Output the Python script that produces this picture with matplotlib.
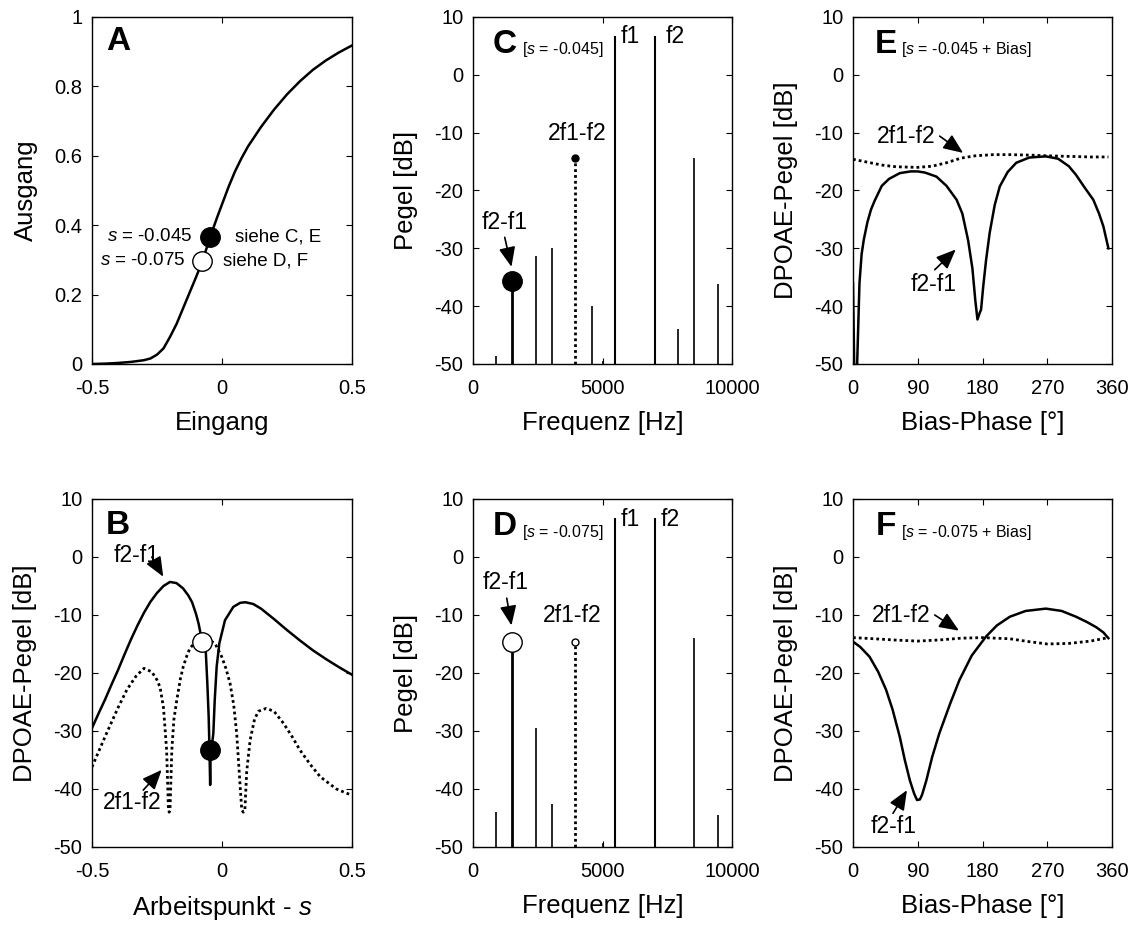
import numpy as np
import matplotlib
matplotlib.use("Agg")
import matplotlib.pyplot as plt

plt.rcParams['font.family'] = ['Liberation Sans', 'DejaVu Sans']
plt.rcParams['mathtext.fontset'] = 'custom'
plt.rcParams['mathtext.rm'] = 'Liberation Sans'
plt.rcParams['mathtext.it'] = 'Liberation Sans:italic'
plt.rcParams['axes.unicode_minus'] = False

# ---------------- data ----------------
# Panel A: transfer function
a_in = [-0.5, -0.45, -0.4, -0.35, -0.3, -0.275, -0.25, -0.225, -0.2, -0.175, -0.15,
        -0.125, -0.1, -0.075, -0.045, -0.02, 0.0, 0.025, 0.05, 0.075, 0.1, 0.15, 0.2,
        0.25, 0.3, 0.35, 0.4, 0.45, 0.5]
a_out = [0.0, 0.001, 0.003, 0.006, 0.011, 0.016, 0.027, 0.045, 0.078, 0.115, 0.16,
         0.205, 0.25, 0.297, 0.367, 0.42, 0.46, 0.51, 0.555, 0.593, 0.627, 0.683, 0.733,
         0.777, 0.815, 0.848, 0.875, 0.898, 0.918]
a_pts_s = [-0.045, -0.075]
a_pts_y = [0.367, 0.297]

# Panel B: DPOAE level vs operating point
b_s_f2f1 = [-0.5, -0.475, -0.45, -0.425, -0.4, -0.375, -0.35, -0.325, -0.3, -0.275,
            -0.25, -0.225, -0.2, -0.175, -0.15, -0.13, -0.115, -0.1, -0.09,
            -0.082, -0.076, -0.0627, -0.0565, -0.0513, -0.049, -0.0455, -0.044, -0.0333,
            -0.028, -0.0205, -0.0103, 0.0115, 0.0435, 0.07, 0.09, 0.12, 0.15, 0.2, 0.25,
            0.3, 0.35, 0.4, 0.45, 0.5]
b_f2f1 = [-29.5, -27.0, -24.6, -22.0, -19.5, -16.8, -14.2, -11.8, -9.6, -7.7,
          -6.2, -5.0, -4.3, -4.5, -5.4, -6.6, -7.8, -9.8, -11.5,
          -13.3, -14.7, -16.0, -21.7, -27.5, -31.6, -39.3, -34.5, -30.4,
          -24.7, -18.9, -14.9, -10.9, -8.6, -7.9, -7.8, -8.1, -8.9, -10.7, -12.6,
          -14.4, -16.1, -17.6, -19.0, -20.3]
b_s_2f1f2 = [-0.5, -0.45, -0.4, -0.366, -0.33, -0.3, -0.27, -0.25, -0.238, -0.225,
             -0.213, -0.206, -0.203, -0.2, -0.193, -0.185, -0.174, -0.16, -0.149,
             -0.135, -0.123, -0.1, -0.075, -0.05, -0.027, -0.001, 0.015, 0.031, 0.045,
             0.0565, 0.069, 0.076, 0.082, 0.088, 0.095, 0.108, 0.125, 0.14, 0.17, 0.2,
             0.237, 0.27, 0.3, 0.34, 0.378, 0.44, 0.5]
b_2f1f2 = [-36.2, -31.0, -26.0, -22.9, -20.5, -19.2, -19.8, -21.2, -22.5, -26.0,
           -33.3, -43.6, -44.0, -43.6, -33.3, -28.0, -24.7, -21.0, -18.9,
           -17.0, -15.7, -14.6, -14.2, -14.3, -14.9, -17.2, -19.2, -21.8, -25.5,
           -30.4, -39.0, -43.6, -44.0, -43.6, -37.0, -31.6, -28.0, -26.6, -26.1, -26.6,
           -28.7, -31.0, -33.3, -35.8, -37.9, -40.0, -41.1]
b_pts_s = [-0.076, -0.046]
b_pts_y = [-14.7, -33.2]

# Panel C: spectrum at s = -0.045
c_freq = [900, 1500, 2420, 3050, 3950, 4580, 5030, 5470, 7010, 7910, 8540, 9450]
c_level = [-48.6, -35.6, -31.3, -29.9, -14.3, -39.9, -49.5, 6.8, 6.8, -43.9, -14.3, -36.2]

# Panel D: spectrum at s = -0.075
d_freq = [900, 1500, 2420, 3050, 3950, 5030, 5470, 7010, 8540, 9450]
d_level = [-43.9, -14.6, -29.4, -42.6, -14.6, -49.3, 6.7, 6.7, -13.9, -44.5]

# Panel E: bias phase, s = -0.045
e_phase = [0, 3, 9, 12, 15, 20, 25, 30, 40, 50, 65, 80, 90, 100, 116, 130, 144, 152,
           160, 166, 170, 173, 176, 178, 181, 185, 190, 197, 204, 215, 227, 245, 268,
           285, 300, 310, 322, 334, 342, 348, 355]
e_f2f1 = [-36, -62, -36, -31, -28.5, -25.5, -23.3, -21.8, -19.2, -18.0, -17.0, -16.7,
          -16.7, -16.9, -17.6, -19.2, -21.6, -24.0, -28.6, -33.5, -39.0, -42.3, -41.2,
          -40.6, -36.6, -32.0, -27.3, -22.5, -19.3, -16.8, -15.2, -14.3, -14.1,
          -14.5, -15.8, -17.3, -19.5, -21.6, -24.0, -26.2, -30.0]
e_phase2 = [0, 20, 40, 60, 90, 110, 130, 150, 170, 195, 220, 250, 270, 300, 330, 355]
e_2f1f2 = [-14.6, -15.1, -15.6, -15.9, -16.0, -15.8, -15.2, -14.4, -14.0, -13.8,
           -13.8, -13.9, -14.0, -14.1, -14.2, -14.2]

# Panel F: bias phase, s = -0.075
f_phase = [0, 10, 23, 35, 46, 55, 65, 72, 79, 85, 89, 93, 96, 102, 110, 120, 135, 148,
           165, 185, 200, 218, 240, 268, 290, 310, 325, 338, 348, 355]
f_f2f1 = [-14.6, -15.5, -17.2, -19.8, -22.9, -26.3, -31.0, -35.0, -38.5, -40.8, -41.9,
          -41.8, -41.0, -38.5, -34.5, -30.4, -25.3, -21.2, -17.0, -13.7, -11.8, -10.3,
          -9.3, -8.9, -9.3, -10.3, -11.2, -12.1, -13.0, -14.0]
f_phase2 = [0, 30, 56, 90, 120, 150, 180, 218, 245, 270, 300, 330, 355]
f_2f1f2 = [-13.9, -14.1, -14.3, -14.5, -14.3, -14.0, -13.9, -14.1, -14.6, -15.0,
           -14.9, -14.5, -13.9]

# ---------------- styling ----------------
TICK_FS = 14.5
LABEL_FS = 18.5
ANN_FS = 16.5
LET_FS = 24
SUB_FS = 11.5
DOT = (0, (1, 1.1))
LW = 1.8

fig = plt.figure(figsize=(11.4, 9.27), dpi=100)
W, H = 1140, 927


def make_ax(left, top, right, bottom):
    return fig.add_axes([left / W, 1 - bottom / H, (right - left) / W, (bottom - top) / H])


def style(ax):
    ax.tick_params(direction='in', top=True, right=True, length=4, width=0.8,
                   labelsize=TICK_FS, pad=7)
    ax.tick_params(axis='x', pad=11)
    for sp in ax.spines.values():
        sp.set_linewidth(1.0)


def arrow(ax, text_xy, tip_xy, tail_xy, label, ha='center'):
    ax.text(text_xy[0], text_xy[1], label, fontsize=ANN_FS, ha=ha, va='center')
    ax.annotate('', xy=tip_xy, xytext=tail_xy,
                arrowprops=dict(arrowstyle='-|>,head_length=1.0,head_width=0.42',
                                mutation_scale=12, color='k', lw=1.2,
                                shrinkA=0, shrinkB=0))


axA = make_ax(92, 17, 352, 364)
axC = make_ax(473, 17, 732, 364)
axE = make_ax(853, 17, 1112, 364)
axB = make_ax(92, 499, 352, 847)
axD = make_ax(473, 499, 732, 847)
axF = make_ax(853, 499, 1112, 847)

# ---- A ----
ax = axA
ax.plot(a_in, a_out, color='k', lw=LW)
ax.plot(a_pts_s[0], a_pts_y[0], 'o', ms=14, mfc='k', mec='k', mew=1)
ax.plot(a_pts_s[1], a_pts_y[1], 'o', ms=14, mfc='white', mec='k', mew=1)
ax.set_xlim(-0.5, 0.5)
ax.set_ylim(0, 1)
ax.set_xticks([-0.5, 0, 0.5])
ax.set_xticklabels(['-0.5', '0', '0.5'])
ax.set_yticks([0, 0.2, 0.4, 0.6, 0.8, 1])
ax.set_yticklabels(['0', '0.2', '0.4', '0.6', '0.8', '1'])
ax.set_xlabel('Eingang', fontsize=LABEL_FS, labelpad=9)
ax.set_ylabel('Ausgang', fontsize=LABEL_FS, labelpad=12)
ax.text(0.1, 0.93, 'A', transform=ax.transAxes, fontsize=LET_FS, fontweight='bold',
        ha='center', va='center')
ax.text(-0.113, 0.367, '$s$ = -0.045', fontsize=13.5, ha='right', va='center')
ax.text(-0.142, 0.297, '$s$ = -0.075', fontsize=13.5, ha='right', va='center')
ax.text(0.05, 0.367, 'siehe C, E', fontsize=13.5, ha='left', va='center')
ax.text(0.003, 0.297, 'siehe D, F', fontsize=13.5, ha='left', va='center')
style(ax)

# ---- B ----
ax = axB
ax.plot(b_s_f2f1, b_f2f1, color='k', lw=LW)
ax.plot(b_s_2f1f2, b_2f1f2, color='k', lw=2.0, ls=DOT)
ax.plot(b_pts_s[0], b_pts_y[0], 'o', ms=14, mfc='white', mec='k', mew=1, zorder=5)
ax.plot(b_pts_s[1], b_pts_y[1], 'o', ms=14, mfc='k', mec='k', mew=1, zorder=5)
ax.set_xlim(-0.5, 0.5)
ax.set_ylim(-50, 10)
ax.set_xticks([-0.5, 0, 0.5])
ax.set_xticklabels(['-0.5', '0', '0.5'])
ax.set_yticks(range(-50, 11, 10))
ax.set_xlabel('Arbeitspunkt - $s$', fontsize=LABEL_FS, labelpad=9)
ax.set_ylabel('DPOAE-Pegel [dB]', fontsize=LABEL_FS, labelpad=12)
ax.text(0.1, 0.923, 'B', transform=ax.transAxes, fontsize=LET_FS, fontweight='bold',
        ha='center', va='center')
arrow(ax, (-0.33, 0.3), (-0.226, -3.4), (-0.27, 0.0), 'f2-f1')
arrow(ax, (-0.346, -42.4), (-0.232, -36.7), (-0.303, -40.2), '2f1-f2')
style(ax)

# ---- C & D ----
for ax, freq, level, lab, fillc, big in [
        (axC, c_freq, c_level, '[$s$ = -0.045]', 'k', 'C'),
        (axD, d_freq, d_level, '[$s$ = -0.075]', 'white', 'D')]:
    for f, l in zip(freq, level):
        if f == 1500:
            ax.vlines(f, -50, l, color='k', lw=2.0)
        elif f == 3950:
            ax.vlines(f, -50, l, color='k', lw=2.0, linestyles=[DOT])
        elif f in (5470, 7010):
            ax.vlines(f, -50, l, color='k', lw=1.5)
        else:
            ax.vlines(f, -50, l, color='k', lw=1.2)
    i1 = freq.index(1500)
    i2 = freq.index(3950)
    ax.plot(freq[i1], level[i1], 'o', ms=14, mfc=fillc, mec='k', mew=1, zorder=5)
    ax.plot(freq[i2], level[i2], 'o', ms=5, mfc=fillc, mec='k', mew=1, zorder=5)
    ax.set_xlim(0, 10000)
    ax.set_ylim(-50, 10)
    ax.set_xticks([0, 5000, 10000])
    ax.set_yticks(range(-50, 11, 10))
    ax.set_xlabel('Frequenz [Hz]', fontsize=LABEL_FS, labelpad=9)
    ax.set_ylabel('Pegel [dB]', fontsize=LABEL_FS, labelpad=12)
    ax.text(0.124, 0.922, big, transform=ax.transAxes, fontsize=LET_FS,
            fontweight='bold', ha='center', va='center')
    ax.text(0.19, 0.905, lab, transform=ax.transAxes, fontsize=SUB_FS,
            ha='left', va='center')
    style(ax)

axC.text(5700, 6.6, 'f1', fontsize=ANN_FS, ha='left', va='center')
axC.text(7450, 6.6, 'f2', fontsize=ANN_FS, ha='left', va='center')
axC.text(4020, -10.1, '2f1-f2', fontsize=ANN_FS, ha='center', va='center')
arrow(axC, (1225, -25.6), (1484, -33.2), (1225, -28.1), 'f2-f1')

axD.text(5700, 6.4, 'f1', fontsize=ANN_FS, ha='left', va='center')
axD.text(7230, 6.4, 'f2', fontsize=ANN_FS, ha='left', va='center')
axD.text(3815, -10.0, '2f1-f2', fontsize=ANN_FS, ha='center', va='center')
arrow(axD, (1264, -4.4), (1484, -11.8), (1303, -7.1), 'f2-f1')

# ---- E & F ----
for ax, ph, y1, ph2, y2, lab, big in [
        (axE, e_phase, e_f2f1, e_phase2, e_2f1f2, '[$s$ = -0.045 + Bias]', 'E'),
        (axF, f_phase, f_f2f1, f_phase2, f_2f1f2, '[$s$ = -0.075 + Bias]', 'F')]:
    ax.plot(ph, y1, color='k', lw=LW)
    ax.plot(ph2, y2, color='k', lw=2.0, ls=DOT)
    ax.set_xlim(0, 360)
    ax.set_ylim(-50, 10)
    ax.set_xticks([0, 90, 180, 270, 360])
    ax.set_yticks(range(-50, 11, 10))
    ax.set_xlabel('Bias-Phase [°]', fontsize=LABEL_FS, labelpad=9)
    ax.set_ylabel('DPOAE-Pegel [dB]', fontsize=LABEL_FS, labelpad=12)
    ax.text(0.128, 0.922, big, transform=ax.transAxes, fontsize=LET_FS,
            fontweight='bold', ha='center', va='center')
    ax.text(0.185, 0.905, lab, transform=ax.transAxes, fontsize=SUB_FS,
            ha='left', va='center')
    style(ax)

arrow(axE, (73.7, -10.7), (153, -13.5), (120.5, -10.6), '2f1-f2')
arrow(axE, (112, -36.3), (142.8, -30.2), (113.6, -33.7), 'f2-f1')
arrow(axF, (67.3, -10.0), (147.3, -12.7), (113.6, -10.0), '2f1-f2')
arrow(axF, (56.6, -46.5), (75, -40.2), (55.6, -44.2), 'f2-f1')

fig.savefig('out.png', dpi=100)
